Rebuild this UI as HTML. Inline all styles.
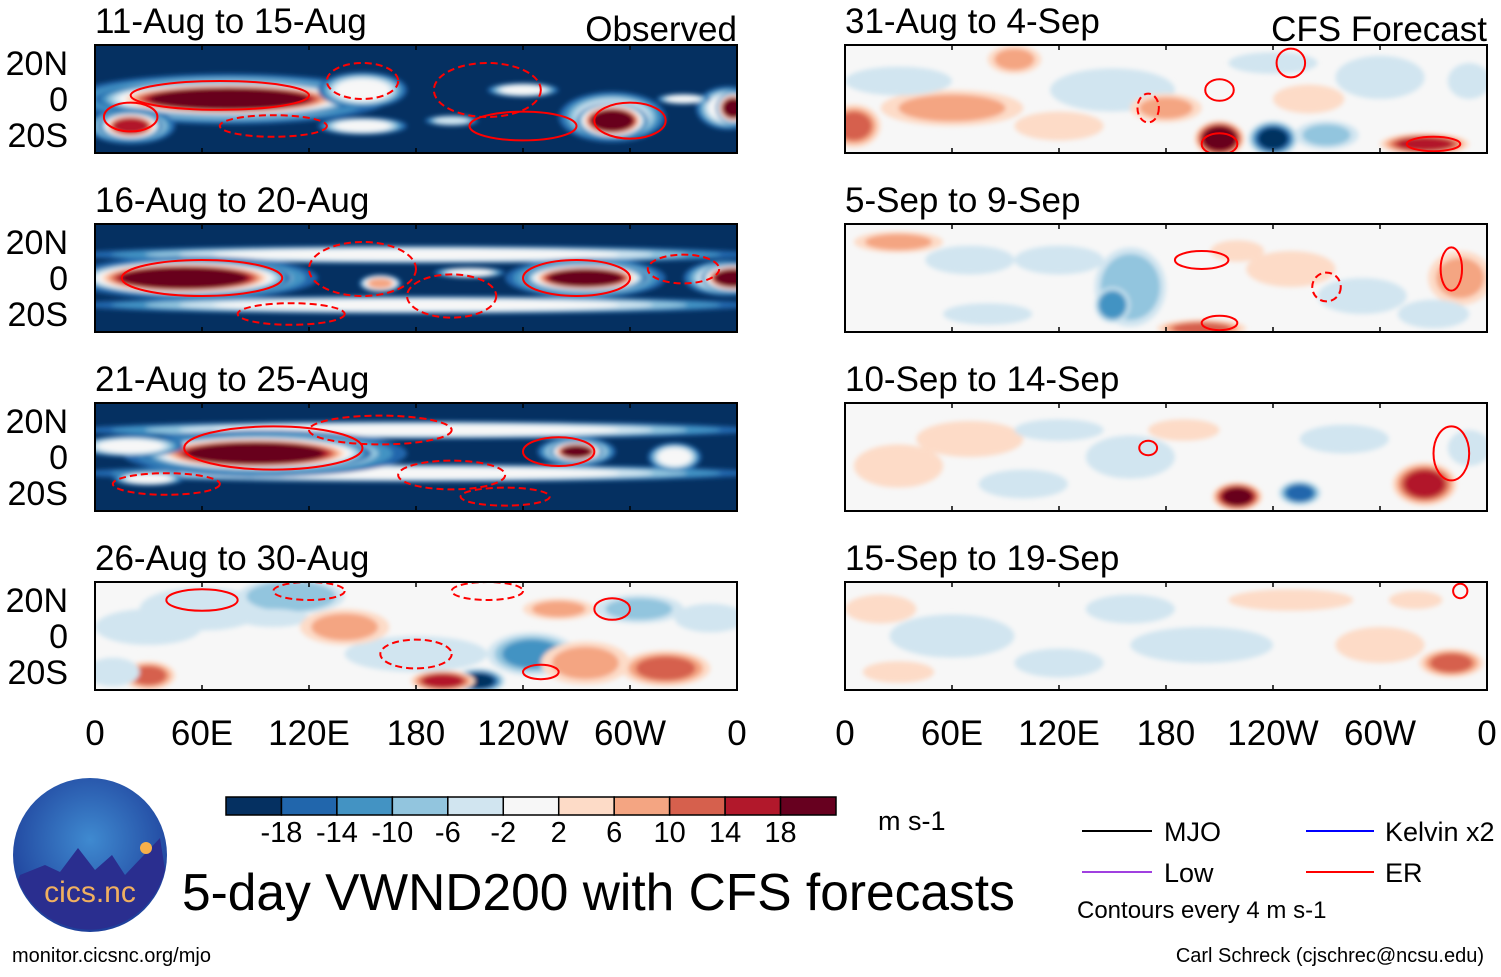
<!DOCTYPE html>
<html><head><meta charset="utf-8"><style>
body{margin:0;background:#fff;font-family:"Liberation Sans",Arial,sans-serif}
svg text{font-family:"Liberation Sans",Arial,sans-serif}
</style></head><body>
<svg id="main" width="1501" height="972" viewBox="0 0 1501 972" xmlns="http://www.w3.org/2000/svg">
<defs>
<filter id="blur" x="-20%" y="-50%" width="140%" height="200%"><feGaussianBlur stdDeviation="2.5"/></filter>
<radialGradient id="logoG" cx="50%" cy="40%" r="60%"><stop offset="0" stop-color="#3f8ad0"/><stop offset="1" stop-color="#1e3f9a"/></radialGradient>
</defs>
<g id="panels"></g>
<g id="axes"></g>
<g id="colorbar"></g>
<g>
<circle cx="90" cy="855" r="77" fill="url(#logoG)"/>
<path d="M20 875 L45 865 L60 872 L78 848 L95 870 L112 855 L125 875 L160 838 L165 870 A77 77 0 0 1 18 880 Z" fill="#2a2e8f"/>
<circle cx="146" cy="848" r="6" fill="#f6b04a"/>
<text x="90" y="902" font-size="30" fill="#f0b060" text-anchor="middle">cics.nc</text>
</g>
<text x="182" y="910" font-size="51.5" fill="#000">5-day VWND200 with CFS forecasts</text>
<text x="878" y="830" font-size="27">m s-1</text>
<text x="12" y="962" font-size="20">monitor.cicsnc.org/mjo</text>
<text x="1484" y="962" font-size="20" text-anchor="end">Carl Schreck (cjschrec@ncsu.edu)</text>
<g font-size="27">
<line x1="1082" y1="831" x2="1152" y2="831" stroke="#000" stroke-width="2"/><text x="1164" y="841">MJO</text>
<line x1="1082" y1="872" x2="1152" y2="872" stroke="#a040e0" stroke-width="2"/><text x="1164" y="882">Low</text>
<line x1="1306" y1="831" x2="1374" y2="831" stroke="#0000ff" stroke-width="2"/><text x="1385" y="841">Kelvin x2</text>
<line x1="1306" y1="872" x2="1374" y2="872" stroke="#ff0000" stroke-width="2"/><text x="1385" y="882">ER</text>
<text x="1077" y="918" font-size="24">Contours every 4 m s-1</text>
</g>
</svg>
<script>
const NS="http://www.w3.org/2000/svg";
const titles=["11-Aug to 15-Aug","16-Aug to 20-Aug","21-Aug to 25-Aug","26-Aug to 30-Aug","31-Aug to 4-Sep","5-Sep to 9-Sep","10-Sep to 14-Sep","15-Sep to 19-Sep"];
const bgVals=[-20,-20,-20,0,0,0,0,0];
// blobs: [lon, lat, lonRadius, latRadius, value m/s]
const blobs=[
 [[75,0,90,14,0],[75,0,75,10,22],[150,5,25,10,0],[20,-15,25,10,0],[20,-15,18,8,16],[150,-15,25,5,0],[290,-10,30,14,0],[290,-12,20,10,22],[355,-5,18,12,0],[358,-5,10,9,22],[240,5,20,4,0],[200,-12,15,3,-4],[330,0,15,3,0]],
 [[180,13,190,5,0],[180,-15,190,5,0],[55,0,70,12,0],[50,0,60,10,22],[160,-3,12,5,8],[275,0,45,11,0],[275,0,35,8,22],[355,0,25,10,0],[358,0,18,8,22],[210,3,20,3,0]],
 [[180,15,190,5,0],[180,-9,190,5,0],[95,2,80,13,0],[90,2,65,10,22],[270,3,22,8,0],[270,3,15,6,20],[20,6,30,6,0],[30,-12,20,4,0],[325,0,15,8,0]],
 [[60,15,35,12,-4],[110,22,30,10,-10],[100,10,20,5,-4],[180,-10,40,10,-4],[215,-25,15,7,-20],[245,-10,25,12,-12],[275,-15,25,12,8],[305,15,25,8,-8],[320,-18,25,10,10],[30,-22,15,8,12],[195,-25,18,6,16],[140,5,25,10,6],[30,5,30,10,-4],[260,15,20,6,6],[345,10,20,8,-4],[10,-20,15,8,-6]],
 [[5,-15,15,12,12],[60,-5,40,10,6],[30,10,30,8,-4],[210,-22,14,10,22],[240,-22,14,10,-20],[270,-20,18,8,-8],[325,-25,25,6,16],[150,5,35,12,-5],[240,20,25,6,-6],[300,12,25,12,-6],[95,22,15,8,6],[180,-5,20,8,6],[120,-15,25,8,4],[260,0,20,8,4],[350,10,12,10,-4]],
 [[160,-5,20,22,-10],[150,-15,10,10,-14],[120,10,25,8,-5],[290,-10,25,10,-5],[250,5,25,10,5],[30,20,25,6,6],[200,-28,25,5,10],[345,0,18,15,8],[80,-20,25,6,-5],[70,10,25,8,-4],[220,15,15,6,5],[330,-20,20,8,-4]],
 [[160,0,25,12,-6],[220,-22,14,8,20],[255,-20,12,7,-16],[325,-15,18,12,16],[70,10,30,10,5],[280,10,25,8,-5],[100,-15,25,8,-5],[30,-5,25,12,5],[120,15,25,6,-4],[190,15,20,6,4],[350,5,12,10,-5]],
 [[60,0,35,12,-5],[200,-5,40,10,-5],[300,-5,25,10,5],[340,-15,18,8,10],[250,20,35,6,5],[120,-15,25,8,-5],[20,15,20,8,4],[160,15,25,8,-4],[320,20,15,5,4],[30,-20,20,6,4]]
];
// contours: [lon, lat, rx(deg), ry(deg), dashed]
const contours=[
 [[70,2,50,8,0],[150,10,20,10,1],[220,5,30,15,1],[300,-12,20,10,0],[240,-15,30,8,0],[20,-10,15,8,0],[100,-15,30,6,1]],
 [[60,0,45,10,0],[150,5,30,15,1],[270,0,30,10,0],[200,-10,25,12,1],[330,5,20,8,1],[110,-20,30,6,1]],
 [[100,5,50,12,0],[260,3,20,8,0],[200,-10,30,8,1],[40,-15,30,6,1],[160,15,40,8,1],[230,-22,25,5,1]],
 [[60,20,20,6,0],[120,25,20,5,1],[220,25,20,5,1],[180,-10,20,8,1],[250,-20,10,4,0],[290,15,10,6,0]],
 [[210,5,8,6,0],[210,-25,10,6,0],[170,-5,6,8,1],[330,-25,15,4,0],[250,20,8,8,0]],
 [[200,10,15,5,0],[340,5,6,12,0],[270,-5,8,8,1],[210,-25,10,4,0]],
 [[340,2,10,15,0],[170,5,5,4,0]],
 [[345,25,4,4,0]]
];
const cbColors=["#053061","#2166ac","#4393c3","#92c5de","#d1e5f0","#f7f7f7","#fddbc7","#f4a582","#d6604d","#b2182b","#67001f"];
const cbLabels=["-18","-14","-10","-6","-2","2","6","10","14","18"];
const xTicks=["0","60E","120E","180","120W","60W","0"];
const yTicks=["20N","0","20S"];
function col(v){const i=Math.max(0,Math.min(10,Math.floor((v+22)/4)));return cbColors[i];}
const panelW=642,panelH=108,lefts=[95,845],tops=[45,224,403,582];
function px(x0,lon){return x0+lon/360*panelW;}
function py(y0,lat){return y0+panelH/2-lat*1.8;}
function mk(tag,attrs,parent){const e=document.createElementNS(NS,tag);for(const k in attrs)e.setAttribute(k,attrs[k]);parent.appendChild(e);return e;}
const P=document.getElementById('panels'),A=document.getElementById('axes');
for(let p=0;p<8;p++){
 const x0=lefts[Math.floor(p/4)],y0=tops[p%4];
 const g=mk('g',{},P);
 
 
 const cp=mk('clipPath',{id:'c'+p},g);
 mk('rect',{x:x0,y:y0,width:panelW,height:panelH},cp);
 const inner=mk('g',{'clip-path':'url(#c'+p+')'},g);
 mk('rect',{x:x0,y:y0,width:panelW,height:panelH,fill:col(bgVals[p])},inner);
 const bg=mk('g',{filter:'url(#blur)'},inner);
 blobs[p].forEach(b=>{
  const base=bgVals[p];
  const n=Math.max(1,Math.round(Math.abs(b[4]-base)/4));
  for(let k=1;k<=n;k++){
   const v=base+(b[4]-base)*k/n;
   const s=1-(k-1)/n*0.5;
   const e=mk('ellipse',{cx:px(x0,b[0]),cy:py(y0,b[1]),rx:b[2]/360*panelW*s,ry:b[3]*1.8*s,fill:col(v)},bg);
   
   
  }
 });
 contours[p].forEach(c=>{
  const e=mk('ellipse',{cx:px(x0,c[0]),cy:py(y0,c[1]),rx:c[2]/360*panelW,ry:c[3]*1.8,fill:'none',stroke:'#f00','stroke-width':2,'stroke-dasharray':c[4]?'7 4':'none'},inner);
  
  
 });
 mk('rect',{x:x0,y:y0,width:panelW,height:panelH,fill:'none',stroke:'#000','stroke-width':2},g);
 const t=mk('text',{x:x0,y:y0-12,'font-size':35},g);t.textContent=titles[p];
 
 
 if(p==0){const o=mk('text',{x:x0+panelW,y:y0-4,'font-size':35,'text-anchor':'end'},g);o.textContent='Observed';}
 if(p==4){const o=mk('text',{x:x0+panelW,y:y0-4,'font-size':35,'text-anchor':'end'},g);o.textContent='CFS Forecast';}
 for(let k=0;k<=6;k++){mk('line',{x1:px(x0,k*60),x2:px(x0,k*60),y1:y0+panelH,y2:y0+panelH-5,stroke:'#000','stroke-width':1.5},g);mk('line',{x1:px(x0,k*60),x2:px(x0,k*60),y1:y0,y2:y0+5,stroke:'#000','stroke-width':1.5},g);}
 if(x0==95){yTicks.forEach((l,i)=>{const tt=mk('text',{x:68,y:py(y0,20-20*i)+12,'font-size':34,'text-anchor':'end'},A);tt.textContent=l;});}
}
lefts.forEach(x0=>xTicks.forEach((l,i)=>{const tt=mk('text',{x:px(x0,i*60),y:745,'font-size':35,'text-anchor':'middle'},A);tt.textContent=l;}));
const C=document.getElementById('colorbar');const cw=610/11;
cbColors.forEach((c,i)=>{const r=mk('rect',{x:226+i*cw,y:797,width:cw,height:18,fill:c,stroke:'#000','stroke-width':1.5},C);});
cbLabels.forEach((l,i)=>{const tt=mk('text',{x:226+(i+1)*cw,y:842,'font-size':29,'text-anchor':'middle'},C);tt.textContent=l;});
</script>
</body></html>
